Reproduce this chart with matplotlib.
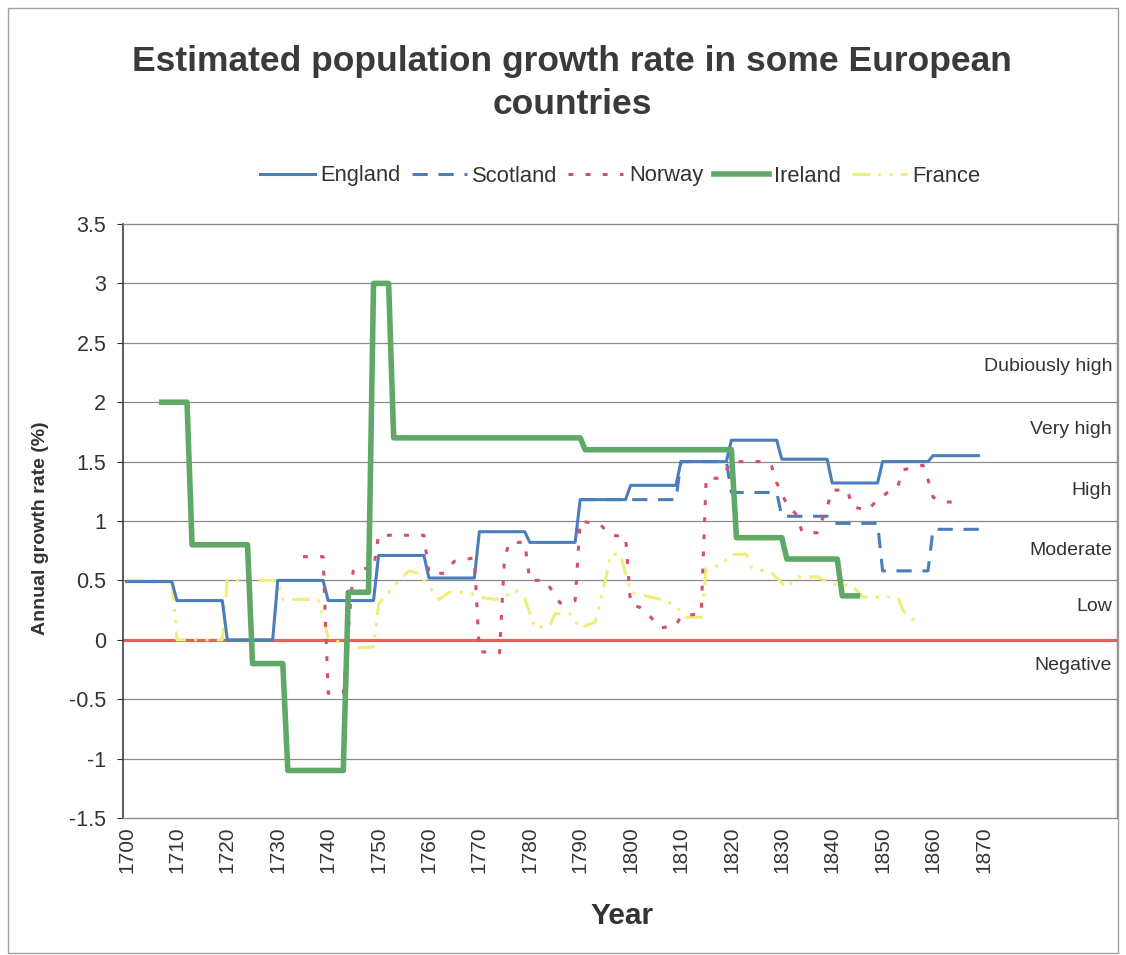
import matplotlib.pyplot as plt
import matplotlib.transforms as mtransforms
from matplotlib.patches import Rectangle

plt.rcParams['font.family'] = ['Liberation Sans', 'DejaVu Sans']
plt.rcParams['axes.unicode_minus'] = False

# series vertices (year, growth %)
england_years = [1700, 1709, 1710, 1719, 1720, 1729, 1730, 1739, 1740, 1749, 1750, 1759,
                 1760, 1769, 1770, 1779, 1780, 1789, 1790, 1799, 1800, 1809, 1810, 1819,
                 1820, 1829, 1830, 1839, 1840, 1849, 1850, 1859, 1860, 1869]
england_vals = [0.49, 0.49, 0.33, 0.33, 0.0, 0.0, 0.5, 0.5, 0.33, 0.33, 0.71, 0.71,
                0.52, 0.52, 0.91, 0.91, 0.82, 0.82, 1.18, 1.18, 1.3, 1.3, 1.5, 1.5,
                1.68, 1.68, 1.52, 1.52, 1.32, 1.32, 1.5, 1.5, 1.55, 1.55]

scotland_years = [1790, 1809, 1810, 1819, 1820, 1829, 1830, 1839, 1840, 1849,
                  1850, 1859, 1860, 1870]
scotland_vals = [1.18, 1.18, 1.5, 1.5, 1.24, 1.24, 1.04, 1.04, 0.98, 0.98,
                 0.58, 0.58, 0.93, 0.93]

norway_years = [1735, 1739, 1740, 1743, 1745, 1749, 1750, 1759, 1760, 1763, 1765, 1769,
                1770, 1774, 1775, 1776, 1779, 1780, 1783, 1785, 1786, 1789, 1790, 1794,
                1796, 1799, 1800, 1802, 1804, 1806, 1809, 1810, 1814, 1815, 1818, 1820,
                1827, 1828, 1829, 1831, 1833, 1834, 1837, 1839, 1840, 1843, 1844, 1847,
                1849, 1851, 1853, 1854, 1858, 1859, 1860, 1862, 1866]
norway_vals = [0.7, 0.7, -0.45, -0.45, 0.6, 0.6, 0.88, 0.88, 0.56, 0.56, 0.66, 0.69,
               -0.1, -0.11, 0.7, 0.82, 0.82, 0.5, 0.5, 0.38, 0.31, 0.33, 1.0, 0.97,
               0.88, 0.87, 0.3, 0.27, 0.19, 0.1, 0.12, 0.2, 0.22, 1.36, 1.36, 1.5,
               1.5, 1.46, 1.32, 1.14, 1.05, 0.91, 0.9, 1.12, 1.26, 1.26, 1.12, 1.09,
               1.18, 1.24, 1.29, 1.43, 1.47, 1.35, 1.2, 1.16, 1.16]

ireland_years = [1707, 1712, 1713, 1724, 1725, 1731, 1732, 1743, 1744, 1748, 1749, 1752,
                 1753, 1790, 1791, 1820, 1821, 1830, 1831, 1841, 1842, 1845]
ireland_vals = [2.0, 2.0, 0.8, 0.8, -0.2, -0.2, -1.1, -1.1, 0.4, 0.4, 3.0, 3.0,
                1.7, 1.7, 1.6, 1.6, 0.86, 0.86, 0.68, 0.68, 0.37, 0.37]

france_years = [1700, 1709, 1710, 1719, 1720, 1730, 1731, 1738, 1740, 1745, 1749, 1750,
                1753, 1756, 1758, 1760, 1762, 1764, 1768, 1770, 1773, 1775, 1777, 1779,
                1781, 1784, 1785, 1788, 1790, 1793, 1795, 1796, 1798, 1800, 1805, 1807,
                1809, 1811, 1814, 1815, 1818, 1820, 1823, 1824, 1828, 1831, 1833, 1837,
                1839, 1841, 1844, 1846, 1853, 1854, 1856, 1858]
france_vals = [0.5, 0.5, 0.0, 0.0, 0.5, 0.5, 0.34, 0.34, 0.02, -0.07, -0.06, 0.3,
               0.45, 0.58, 0.56, 0.45, 0.34, 0.4, 0.4, 0.36, 0.34, 0.36, 0.42, 0.35,
               0.1, 0.12, 0.22, 0.22, 0.1, 0.15, 0.5, 0.72, 0.72, 0.4, 0.35, 0.33,
               0.28, 0.19, 0.19, 0.6, 0.63, 0.72, 0.72, 0.61, 0.56, 0.44, 0.53, 0.53,
               0.49, 0.46, 0.46, 0.36, 0.36, 0.25, 0.17, 0.17]

band_labels = ['Dubiously high', 'Very high', 'High', 'Moderate', 'Low', 'Negative']
band_pos = [2.3, 1.77, 1.26, 0.75, 0.28, -0.22]

yticks = [-1.5, -1, -0.5, 0, 0.5, 1, 1.5, 2, 2.5, 3, 3.5]
ytick_labels = ['-1.5', '-1', '-0.5', '0', '0.5', '1', '1.5', '2', '2.5', '3', '3.5']
xticks = list(range(1700, 1871, 10))

fig = plt.figure(figsize=(11.26, 9.55), dpi=100)
ax = fig.add_axes([123 / 1126, 1 - 818 / 955, 994 / 1126, 594 / 955])

ax.set_xlim(1699.3, 1896.5)
ax.set_ylim(-1.5, 3.5)
for v in yticks[1:-1]:
    ax.axhline(v, color='#8a8a8a', lw=0.9, zorder=1)

ax.axhline(0, color='#e2625c', lw=2.3, zorder=2)

ax.plot(england_years, england_vals, color='#4a7ebb', lw=2.2, label='England', zorder=4)
ax.plot(scotland_years, scotland_vals, color='#4a7ebb', lw=2.2,
        linestyle=(0, (5, 3.5)), label='Scotland', zorder=4)
ax.plot(norway_years, norway_vals, color='#d4506a', lw=2.2,
        linestyle=(0, (1.6, 4)), label='Norway', zorder=4)
ax.plot(ireland_years, ireland_vals, color='#5fa866', lw=4, label='Ireland', zorder=5)
ax.plot(france_years, france_vals, color='#f0ee78', lw=2.2,
        linestyle=(0, (5.7, 2.7, 1, 2.7, 1, 2.7)), label='France', zorder=3)

trans = mtransforms.blended_transform_factory(ax.transAxes, ax.transData)
for lab, pos in zip(band_labels, band_pos):
    ax.text(0.995, pos, lab, transform=trans, ha='right', va='center',
            fontsize=14, color='#333333')

ax.set_yticks(yticks)
ax.set_yticklabels(ytick_labels)
ax.set_xticks(xticks)
ax.set_xticklabels([str(x) for x in xticks], rotation=90)
ax.tick_params(axis='y', labelsize=15.5, colors='#333333', length=4, pad=8)
ax.tick_params(axis='x', labelsize=15, colors='#333333', length=0, pad=6)

for s in ['top', 'right', 'bottom']:
    ax.spines[s].set_color('#8a8a8a')
    ax.spines[s].set_linewidth(1)
ax.spines['left'].set_color('#404040')
ax.spines['left'].set_linewidth(1.2)

fig.text(0.508, 1 - 83 / 955, 'Estimated population growth rate in some European\ncountries',
         ha='center', va='center', fontsize=25.5, fontweight='bold', color='#3a3a3a',
         linespacing=1.35)

fig.legend(loc='center', bbox_to_anchor=(0.551, 1 - 176 / 955), ncol=5, frameon=False,
           fontsize=15.8, handlelength=2.5, handletextpad=0.25, columnspacing=0.5,
           labelcolor='#333333')

fig.text(0.036, 1 - 528 / 955, 'Annual growth rate (%)', rotation=90, ha='center',
         va='center', fontsize=14, fontweight='bold', color='#333333')
fig.text(0.552, 1 - 916 / 955, 'Year', ha='center', va='center', fontsize=21.5,
         fontweight='bold', color='#333333')

fig.patches.append(Rectangle((8 / 1126, 2 / 955), 1110 / 1126, 945 / 955,
                             transform=fig.transFigure, fill=False,
                             edgecolor='#a0a0a0', lw=1))

fig.savefig('out.png', dpi=100)
